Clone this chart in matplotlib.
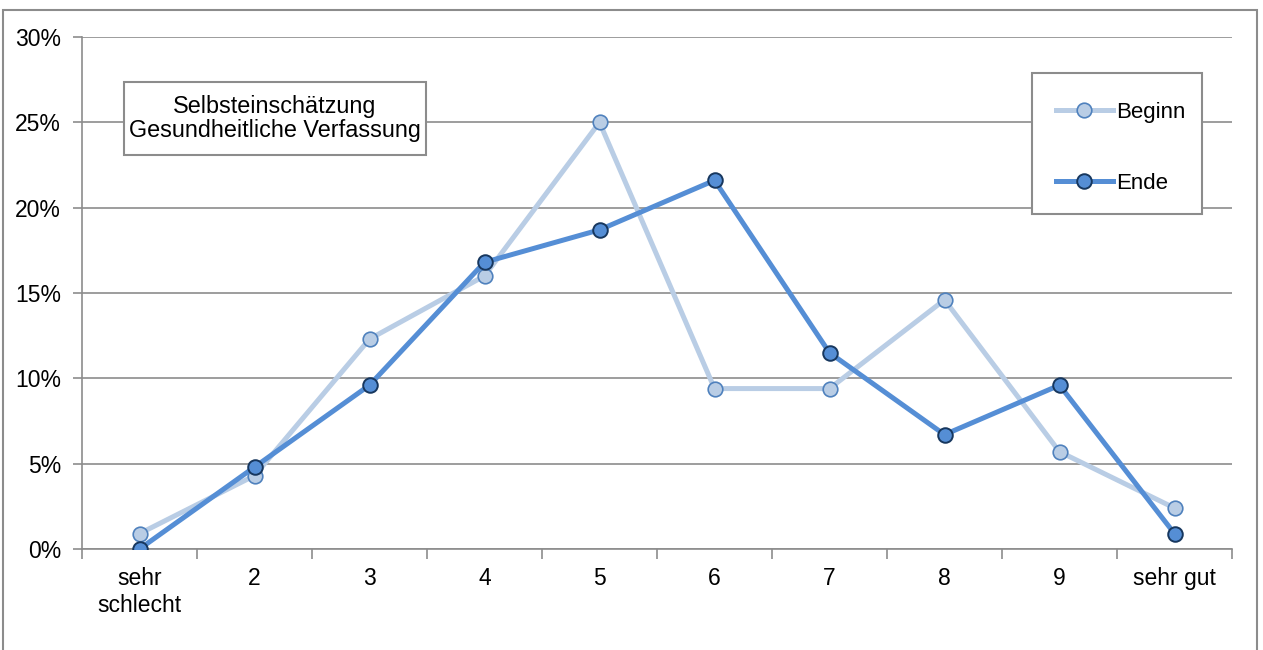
import matplotlib.pyplot as plt
from matplotlib.patches import Rectangle
from matplotlib.ticker import FuncFormatter

plt.rcParams['font.family'] = ['Liberation Sans', 'DejaVu Sans']

# Antworten auf der Skala 1 (sehr schlecht) bis 10 (sehr gut), Anteile in %
categories = ["sehr\nschlecht", "2", "3", "4", "5", "6", "7", "8", "9", "sehr gut"]
beginn = [0.9, 4.3, 12.3, 16.0, 25.0, 9.4, 9.4, 14.6, 5.7, 2.4]
ende = [0.0, 4.8, 9.6, 16.8, 18.7, 21.6, 11.5, 6.7, 9.6, 0.9]

W, H = 1263, 650
fig = plt.figure(figsize=(W / 100, H / 100), dpi=100)

# Rahmen um das ganze Diagramm (unten offen, ragt über den Rand)
fig.patches.append(Rectangle((3 / W, -0.05), 1254 / W, 1 - 10 / H + 0.05,
                             transform=fig.transFigure, fill=False,
                             edgecolor="#8c8c8c", linewidth=1.5))

ax = fig.add_axes([82 / W, 1 - 549 / H, 1150 / W, 512 / H])

x = list(range(len(categories)))
ax.plot(x, [v / 100 for v in beginn], color="#b9cde5", linewidth=3.6,
        marker="o", markersize=10.5, markerfacecolor="#b9cde5",
        markeredgecolor="#4f81bd", markeredgewidth=1.2, label="Beginn", zorder=3)
ax.plot(x, [v / 100 for v in ende], color="#558ed5", linewidth=3.6,
        marker="o", markersize=10.5, markerfacecolor="#558ed5",
        markeredgecolor="#17375e", markeredgewidth=1.4, label="Ende", zorder=4)

ax.set_xlim(-0.5, len(categories) - 0.5)
ax.set_ylim(0, 0.30)
ax.set_yticks([0, 0.05, 0.10, 0.15, 0.20, 0.25, 0.30])
ax.yaxis.set_major_formatter(FuncFormatter(lambda v, p: f"{v * 100:.0f}%"))
ax.set_xticks(x)
ax.set_xticklabels(categories)
ax.set_xticks([i - 0.5 for i in range(len(categories) + 1)], minor=True)

ax.tick_params(axis="x", which="major", length=0, pad=13, labelsize=16.5)
ax.tick_params(axis="x", which="minor", length=7, direction="out",
               color="#8c8c8c", width=1.2)
ax.tick_params(axis="y", length=6.5, direction="out", color="#8c8c8c",
               width=1.2, pad=8.5, labelsize=16.5)

ax.grid(axis="y", color="#8c8c8c", linewidth=1.2)
ax.set_axisbelow(True)
for side in ["top", "right"]:
    ax.spines[side].set_visible(False)
for side in ["left", "bottom"]:
    ax.spines[side].set_color("#8c8c8c")
    ax.spines[side].set_linewidth(1.2)

# Beschriftungsfeld links oben
fig.patches.append(Rectangle((124 / W, 1 - 155 / H), 302 / W, 73 / H,
                             transform=fig.transFigure, facecolor="white",
                             edgecolor="#8c8c8c", linewidth=1.5, zorder=5))
fig.text(275 / W, 1 - 118.5 / H, "Selbsteinschätzung\nGesundheitliche Verfassung",
         ha="center", va="center", fontsize=16.8, linespacing=1.1, zorder=6)

# Legende: Rahmen separat, Einträge ohne eigenen Rahmen darüber
fig.patches.append(Rectangle((1032 / W, 1 - 214 / H), 170 / W, 141 / H,
                             transform=fig.transFigure, facecolor="white",
                             edgecolor="#8c8c8c", linewidth=1.5, zorder=5))
leg = fig.legend(loc="upper left", bbox_to_anchor=(1056 / W, 1 - 102 / H),
                 fontsize=16, frameon=False, borderpad=0, labelspacing=2.25,
                 handlelength=2.55, handletextpad=0.15, borderaxespad=0)
leg.set_zorder(6)

fig.savefig("out.png", dpi=100)
